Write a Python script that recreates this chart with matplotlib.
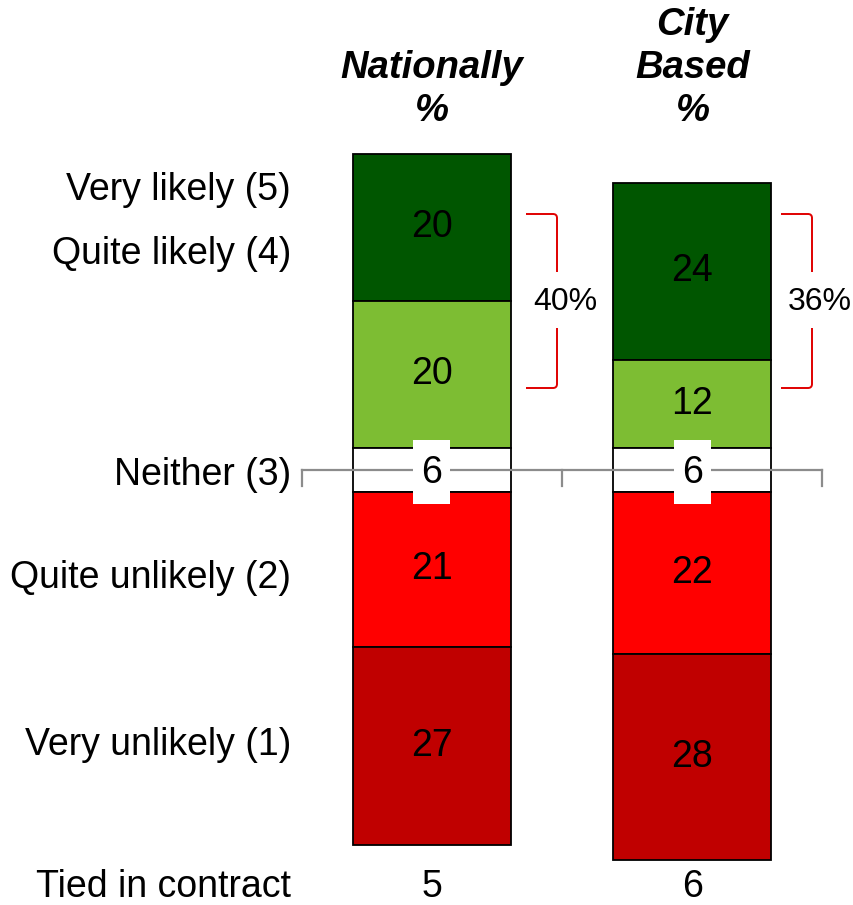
import matplotlib
matplotlib.use("Agg")
import matplotlib.pyplot as plt
from matplotlib.path import Path
from matplotlib.patches import PathPatch, Rectangle

plt.rcParams['font.family'] = ['Liberation Sans', 'DejaVu Sans']

# ---- data ----
categories = ["Very likely (5)", "Quite likely (4)", "Neither (3)",
              "Quite unlikely (2)", "Very unlikely (1)"]
columns = ["Nationally", "City Based"]
header_lines = [["Nationally", "%"], ["City", "Based", "%"]]
national = [20, 20, 6, 21, 27]
city = [24, 12, 6, 22, 28]
tied = [5, 6]
likely_totals = ["40%", "36%"]
colors = ["#005600", "#7DBD33", "#FFFFFF", "#FF0000", "#C00000"]

series = [national, city]

W, H = 854, 905
fig = plt.figure(figsize=(W / 100, H / 100), dpi=100)
ax = fig.add_axes([0, 0, 1, 1])
ax.axis('off')

# pixel <-> data helpers (layout only)
Y0, SC = 470.0, 7.36       # pixel y of neither-centre, px per % point
XC0, XU = 432.0, 260.5     # pixel x of first bar centre, px per category
def px(x):
    return (x - XC0) / XU
def py(y):
    return (Y0 - y) / SC

ax.set_xlim(px(0), px(W))
ax.set_ylim(py(H), py(0))

bar_w = 158 / XU
FS = 27

for i, vals in enumerate(series):
    vl, ql, ne, qu, vu = vals
    bottoms = [ne / 2 + ql, ne / 2, -ne / 2, -ne / 2 - qu, -ne / 2 - qu - vu]
    for j, (v, b) in enumerate(zip(vals, bottoms)):
        ax.bar(i, v, bottom=b, width=bar_w, color=colors[j],
               edgecolor='black', linewidth=1.3, zorder=2)
        if j != 2:
            ax.text(i, b + v / 2, str(v), ha='center', va='center',
                    fontsize=FS, color='black', zorder=5)

# neither reference line with ticks
lx = [px(302), px(822)]
ax.plot(lx, [0, 0], color='#8C8C8C', lw=1.6, zorder=3)
for tx in [px(302), px(562), px(822)]:
    ax.plot([tx, tx], [0, py(486)], color='#8C8C8C', lw=1.6, zorder=3)

box_w, box_h = 37 / XU, 64 / SC
for i, vals in enumerate(series):
    ax.add_patch(Rectangle((i - box_w / 2, py(472) - box_h / 2), box_w, box_h,
                           fc='white', ec='none', zorder=4))
    ax.text(i, py(473), str(vals[2]), ha='center', va='center', fontsize=FS,
            zorder=6)

# left labels
label_y = [190, 254, 475, 578, 745]
for lab, yy in zip(categories, label_y):
    ax.text(px(291), py(yy), lab, ha='right', va='center', fontsize=FS)
ax.text(px(291), py(887), "Tied in contract", ha='right', va='center', fontsize=FS)
for i, t in enumerate(tied):
    ax.text(i, py(887), str(t), ha='center', va='center', fontsize=FS)

# headers
for i, lines in enumerate(header_lines):
    n = len(lines)
    for k, line in enumerate(lines):
        yy = 111 - 43 * (n - 1 - k)
        ax.text(i, py(yy), line, ha='center', va='center', fontsize=27.5,
                fontweight='bold', fontstyle='italic')

# red brackets
br_top, br_bot, gap_top, gap_bot = py(214), py(388), py(272), py(328)
for xv, xh, xt, lab in [(557, 526, 565, likely_totals[0]),
                        (812, 781, 820, likely_totals[1])]:
    xv_, xh_ = px(xv), px(xh)
    r = px(xv) - px(xv - 4)
    ry = 4 / SC
    codes = [Path.MOVETO, Path.LINETO, Path.CURVE3, Path.CURVE3, Path.LINETO]
    verts = [(xh_, br_top), (xv_ - r, br_top), (xv_, br_top), (xv_, br_top - ry),
             (xv_, gap_top)]
    ax.add_patch(PathPatch(Path(verts, codes), fc='none', ec='#E00000', lw=1.4))
    verts = [(xh_, br_bot), (xv_ - r, br_bot), (xv_, br_bot), (xv_, br_bot + ry),
             (xv_, gap_bot)]
    ax.add_patch(PathPatch(Path(verts, codes), fc='none', ec='#E00000', lw=1.4))
    ax.text(px(xt), py(302), lab, ha='center', va='center', fontsize=23)

fig.savefig("out.png", dpi=100)
